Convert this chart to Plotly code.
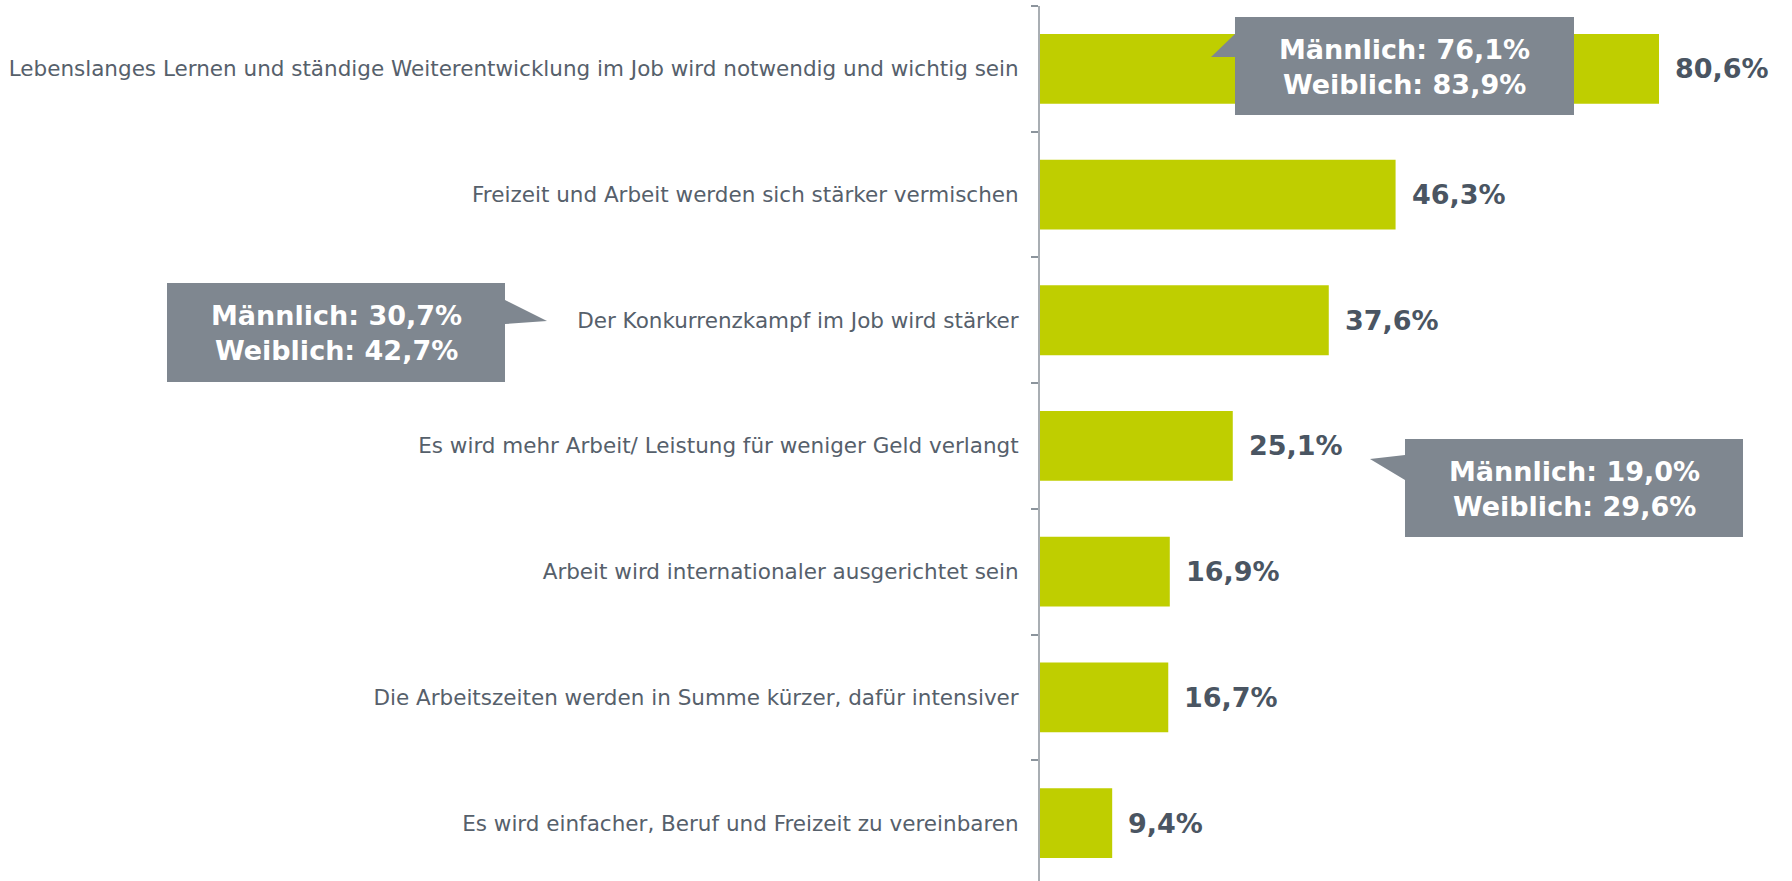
import plotly.graph_objects as go

categories = [
    "Lebenslanges Lernen und ständige Weiterentwicklung im Job wird notwendig und wichtig sein",
    "Freizeit und Arbeit werden sich stärker vermischen",
    "Der Konkurrenzkampf im Job wird stärker",
    "Es wird mehr Arbeit/ Leistung für weniger Geld verlangt",
    "Arbeit wird internationaler ausgerichtet sein",
    "Die Arbeitszeiten werden in Summe kürzer, dafür intensiver",
    "Es wird einfacher, Beruf und Freizeit zu vereinbaren",
]
values = [80.6, 46.3, 37.6, 25.1, 16.9, 16.7, 9.4]

callout_index = [0, 2, 3]
male = [76.1, 30.7, 19.0]
female = [83.9, 42.7, 29.6]

W, H = 1792, 881
TOP = 6
PLOT_H = H - TOP
BAR_COLOR = "#BFCE00"
BOX_COLOR = "#7F8790"
LABEL_COLOR = "#56606B"
VALUE_COLOR = "#4A5562"
FONT = "DejaVu Sans"


def fmt(v):
    return f"{v:.1f}".replace(".", ",") + "%"


def P(px, py):
    return px / W, (H - py) / PLOT_H


def path(points):
    pts = [P(x, y) for x, y in points]
    return "M " + " L ".join(f"{x:.5f},{y:.5f}" for x, y in pts) + " Z"


fig = go.Figure(
    go.Bar(
        x=values,
        y=categories,
        orientation="h",
        marker=dict(color=BAR_COLOR, line=dict(width=0)),
        width=0.555,
        hoverinfo="skip",
    )
)

# value labels
for c, v in zip(categories, values):
    fig.add_annotation(
        x=v, y=c, xref="x", yref="y", text=fmt(v), showarrow=False,
        xanchor="left", xshift=14,
        font=dict(family=FONT, size=27, color=VALUE_COLOR, weight="bold"),
    )

# callout shapes (box + pointer), in pixel layout coordinates
callout_paths = [
    [(1235, 17), (1574, 17), (1574, 115), (1235, 115), (1235, 57), (1211, 57), (1235, 34)],
    [(167, 283), (505, 283), (505, 300), (547, 321), (505, 324), (505, 382), (167, 382)],
    [(1405, 439), (1743, 439), (1743, 537), (1405, 537), (1405, 480), (1370, 459), (1405, 455)],
]
callout_centers = [(1404, 67), (336, 333), (1574, 489)]

for pts, (cx, cy), m, f in zip(callout_paths, callout_centers, male, female):
    fig.add_shape(type="path", path=path(pts), xref="paper", yref="paper",
                  fillcolor=BOX_COLOR, line=dict(width=0), layer="above")
    ax, ay = P(cx, cy)
    fig.add_annotation(
        x=ax, y=ay, xref="paper", yref="paper",
        text=f"Männlich: {fmt(m)}<br>Weiblich: {fmt(f)}",
        showarrow=False, xanchor="center", yanchor="middle", align="center",
        font=dict(family=FONT, size=27, color="white", weight="bold"),
    )

axis_x0 = 1040
px_per_unit = 7.68
fig.update_layout(
    template="none",
    width=W, height=H,
    margin=dict(l=0, r=0, t=TOP, b=0, pad=0),
    paper_bgcolor="white", plot_bgcolor="white",
    showlegend=False,
    font=dict(family=FONT),
    xaxis=dict(
        domain=[axis_x0 / W, 1],
        range=[0, (W - axis_x0) / px_per_unit],
        visible=False, showgrid=False, zeroline=False, automargin=False,
    ),
    yaxis=dict(
        type="category",
        categoryorder="array", categoryarray=categories,
        range=[-0.5 + PLOT_H / 125.7, -0.5],
        autorange=False,
        tickson="boundaries",
        ticks="outside", ticklen=7, tickwidth=1.5, tickcolor="#8C949C",
        showline=True, linecolor="#A9AEB3", linewidth=2,
        showgrid=False, zeroline=False, automargin=False,
        ticklabelstandoff=15,
        tickfont=dict(family=FONT, size=21.5, color=LABEL_COLOR),
    ),
)

fig.write_html("out.html", config={"displayModeBar": False},
               post_script="document.body.style.margin='0';")
